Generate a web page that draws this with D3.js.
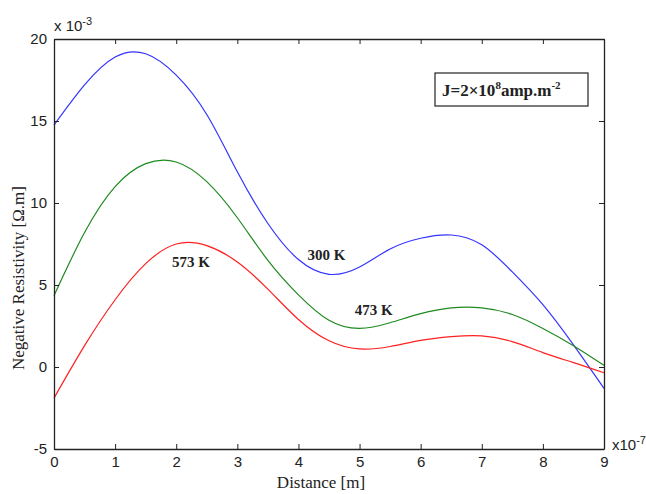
<!DOCTYPE html>
<html>
<head>
<meta charset="utf-8">
<script src="https://cdn.jsdelivr.net/npm/d3@7"></script>
<style>
    body { margin: 0; background: #fff; }
    svg text { fill: #222; }
</style>
</head>
<body>
<div id="chart"></div>
<script>
// distance in units of 1e-7 m
var distance = [0, 0.5, 1, 1.5, 2, 2.5, 3, 3.5, 4, 4.5, 5, 5.5, 6, 6.5, 7, 7.5, 8, 8.5, 9];
// negative resistivity in units of 1e-3 ohm.m
var rho300 = [14.75, 17.2, 18.9, 19.1, 17.8, 15.4, 11.9, 8.75, 6.55, 5.65, 6.1, 7.2, 7.85, 8.05, 7.45, 5.8, 3.8, 1.35, -1.3];
var rho473 = [4.35, 8.2, 11.0, 12.4, 12.5, 11.3, 9.1, 6.5, 4.4, 2.85, 2.35, 2.7, 3.25, 3.6, 3.6, 3.2, 2.35, 1.3, 0.1];
var rho573 = [-1.9, 1.3, 4.1, 6.3, 7.5, 7.4, 6.4, 4.75, 2.9, 1.6, 1.1, 1.25, 1.62, 1.85, 1.9, 1.55, 0.88, 0.27, -0.35];
var xTicks = [0, 1, 2, 3, 4, 5, 6, 7, 8, 9];
var yTicks = [-5, 0, 5, 10, 15, 20];

(function () {
    var series = [
        { name: '300 K', values: rho300, color: '#3333ff', lx: 4.15, ly: 6.5 },
        { name: '473 K', values: rho473, color: '#1f8a1f', lx: 4.92, ly: 3.2 },
        { name: '573 K', values: rho573, color: '#ff2020', lx: 1.93, ly: 6.1 }
    ];

    var width = 646, height = 494,
        margin = { left: 54, right: 42, top: 39, bottom: 45 };

    var svg = d3.select('#chart').append('svg')
        .attr('width', width)
        .attr('height', height);

    var x = d3.scaleLinear().domain([0, 9]).range([margin.left, width - margin.right]);
    var y = d3.scaleLinear().domain([-5, 20]).range([height - margin.bottom, margin.top]);

    //lines
    var line = d3.line()
        .x(function (d) { return x(d[0]); })
        .y(function (d) { return y(d[1]); })
        .curve(d3.curveNatural);

    series.forEach(function (s) {
        svg.append('path')
            .datum(distance.map(function (d, i) { return [d, s.values[i]]; }))
            .attr('fill', 'none')
            .attr('stroke', s.color)
            .attr('stroke-width', 1.2)
            .attr('d', line);
    });

    //axes, ticks inside; plain hyphen for negatives
    var fmt = function (d) { return String(d); };
    var tickFont = '15px "Liberation Sans", Arial, sans-serif';
    var axBottom = svg.append('g').attr('transform', 'translate(0,' + y(-5) + ')')
        .call(d3.axisBottom(x).tickValues(xTicks).tickFormat(fmt).tickSizeInner(-5).tickSizeOuter(0).tickPadding(7));
    var axTop = svg.append('g').attr('transform', 'translate(0,' + y(20) + ')')
        .call(d3.axisTop(x).tickValues(xTicks).tickSizeInner(-5).tickSizeOuter(0).tickFormat(''));
    var axLeft = svg.append('g').attr('transform', 'translate(' + x(0) + ',0)')
        .call(d3.axisLeft(y).tickValues(yTicks).tickFormat(fmt).tickSizeInner(-5).tickSizeOuter(0).tickPadding(7));
    var axRight = svg.append('g').attr('transform', 'translate(' + x(9) + ',0)')
        .call(d3.axisRight(y).tickValues(yTicks).tickSizeInner(-5).tickSizeOuter(0).tickFormat(''));

    [axBottom, axTop, axLeft, axRight].forEach(function (g) {
        g.select('.domain').attr('stroke', '#222').attr('stroke-width', 1.3);
        g.selectAll('.tick line').attr('stroke', '#222');
        g.selectAll('.tick text').style('font', tickFont).attr('fill', '#222');
    });

    //exponent labels
    var e1 = svg.append('text').attr('x', 54).attr('y', 31).style('font', tickFont);
    e1.append('tspan').text('x 10');
    e1.append('tspan').attr('dy', -6).style('font-size', '11px').text('-3');

    var e2 = svg.append('text').attr('x', 612).attr('y', 450).style('font', tickFont);
    e2.append('tspan').text('x10');
    e2.append('tspan').attr('dy', -6).style('font-size', '11px').text('-7');

    //axis titles
    var titleFont = '17px "Liberation Serif", "Times New Roman", serif';
    svg.append('text')
        .attr('x', 321).attr('y', 488)
        .attr('text-anchor', 'middle')
        .style('font', titleFont)
        .text('Distance [m]');

    svg.append('text')
        .attr('transform', 'translate(24,' + 278 + ') rotate(-90)')
        .attr('text-anchor', 'middle')
        .style('font', titleFont)
        .text('Negative Resistivity [\u03A9.m]');

    //curve labels
    var labelFont = 'bold 15px "Liberation Serif", "Times New Roman", serif';
    series.forEach(function (s) {
        svg.append('text')
            .attr('x', x(s.lx)).attr('y', y(s.ly))
            .style('font', labelFont)
            .text(s.name);
    });

    //current density box
    svg.append('rect')
        .attr('x', 435).attr('y', 73).attr('width', 153).attr('height', 33)
        .attr('fill', '#fff').attr('stroke', '#222').attr('stroke-width', 1.2);
    var jt = svg.append('text').attr('x', 442).attr('y', 96).style('font', 'bold 17px "Liberation Serif", "Times New Roman", serif');
    jt.append('tspan').text('J=2\u00D710');
    jt.append('tspan').attr('dy', -7).style('font-size', '11px').text('8');
    jt.append('tspan').attr('dy', 7).text('amp.m');
    jt.append('tspan').attr('dy', -7).style('font-size', '11px').text('-2');
})();
</script>
</body>
</html>
